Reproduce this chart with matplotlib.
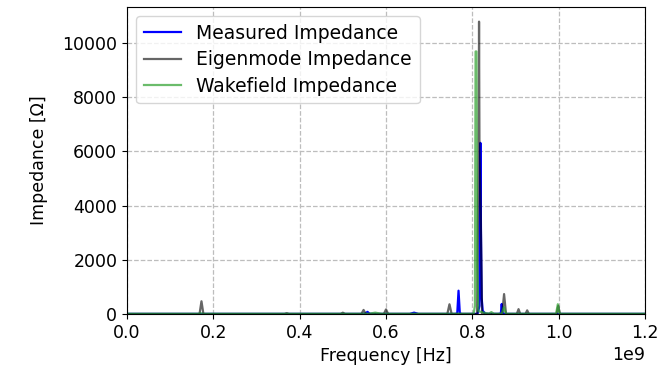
import numpy as np
import matplotlib
matplotlib.use("Agg")
import matplotlib.pyplot as plt

# Peak data (frequency in GHz, impedance in Ohm)
measured_f = [0.0, 0.540, 0.552, 0.557, 0.562, 0.575, 0.655, 0.665, 0.675,
              0.760, 0.765, 0.768, 0.771, 0.776, 0.812, 0.8165, 0.8186, 0.8200,
              0.8215, 0.824, 0.830, 0.860, 0.866, 0.868, 0.870, 0.876, 1.0, 1.2]
measured_z = [5, 5, 10, 80, 10, 5, 5, 50, 5,
              5, 20, 860, 20, 5, 5, 300, 6310, 3000,
              600, 120, 10, 5, 20, 370, 20, 5, 5, 5]

eigen_f = [0.0, 0.168, 0.1725, 0.177, 0.365, 0.37, 0.375, 0.495, 0.500, 0.505,
           0.543, 0.548, 0.553, 0.595, 0.600, 0.605, 0.742, 0.747, 0.752,
           0.811, 0.8145, 0.8155, 0.8165, 0.8195, 0.8225, 0.869, 0.8735, 0.878,
           0.903, 0.907, 0.911, 0.923, 0.927, 0.931, 0.995, 0.999, 1.003, 1.2]
eigen_z = [0, 0, 470, 0, 0, 30, 0, 0, 50, 0,
           0, 150, 0, 0, 170, 0, 0, 360, 0,
           0, 6000, 10780, 6000, 3500, 0, 0, 735, 0,
           0, 180, 0, 0, 135, 0, 0, 300, 0, 0]

wake_f = [0.0, 0.165, 0.170, 0.175, 0.560, 0.575, 0.590, 0.803, 0.806,
          0.8075, 0.8095, 0.811, 0.814, 0.838, 0.844, 0.850, 0.868, 0.873,
          0.878, 0.994, 0.998, 1.002, 1.2]
wake_z = [10, 10, 30, 10, 10, 50, 10, 10, 300,
          9680, 9680, 2000, 100, 10, 70, 10, 10, 250,
          10, 10, 360, 10, 10]

fig = plt.figure(figsize=(6.66, 3.71), dpi=100)
ax = fig.add_axes([0.1907, 0.1536, 0.7778, 0.8275])

ax.plot(np.array(measured_f) * 1e9, measured_z, color='blue', lw=1.6,
        label='Measured Impedance')
ax.plot(np.array(eigen_f) * 1e9, eigen_z, color='k', alpha=0.6, lw=1.6,
        label='Eigenmode Impedance')
ax.plot(np.array(wake_f) * 1e9, wake_z, color='tab:green', alpha=0.7, lw=1.6,
        label='Wakefield Impedance')

ax.set_xlim(0, 1.2e9)
ax.set_ylim(0, max(eigen_z) * 1.05)
ax.set_xlabel('Frequency [Hz]', fontsize=12.5)
ax.set_ylabel('Impedance [Ω]', fontsize=12.5, labelpad=10)
ax.tick_params(labelsize=12.5)
ax.xaxis.get_offset_text().set_fontsize(12.5)
ax.grid(True, linestyle='--', color='#bdbdbd', lw=0.9)
ax.legend(loc='upper left', fontsize=13.5, handlelength=2.0, labelspacing=0.4)

fig.savefig('out.png', dpi=100)
